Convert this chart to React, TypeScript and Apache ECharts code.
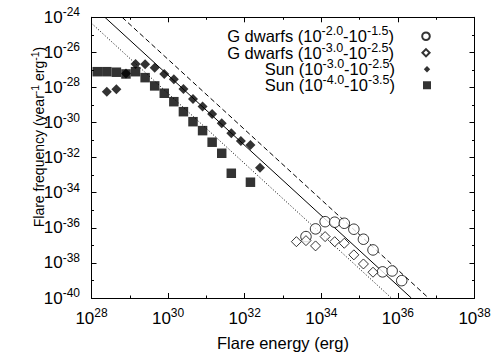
import React, { useEffect, useRef } from 'react';
import * as echarts from 'echarts';

const FONT = '"Liberation Sans", Arial, Helvetica, sans-serif';

// All values are log10: x = log10(flare energy / erg), y = log10(flare frequency / (year^-1 erg^-1))
const gdwarfHighLogE = [33.6, 33.85, 34.1, 34.35, 34.6, 34.85, 35.1, 35.35, 35.6, 35.85, 36.1];
const gdwarfHighLogF = [-36.5, -36.06, -35.65, -35.68, -35.74, -36.08, -36.65, -37.26, -38.51, -38.46, -39.01];

const gdwarfLowLogE = [33.35, 33.6, 33.85, 34.1, 34.35, 34.6, 34.85, 35.1, 35.35];
const gdwarfLowLogF = [-36.79, -36.73, -37.03, -36.5, -36.79, -36.88, -37.54, -38.06, -38.53];

const sunHighLogE = [28.4, 28.65, 28.9, 29.15, 29.4, 29.65, 29.9, 30.15, 30.4, 30.65, 30.9, 31.15, 31.4, 31.65, 31.9, 32.15, 32.4];
const sunHighLogF = [-28.24, -28.1, -27.2, -26.66, -26.68, -26.87, -27.23, -27.53, -28.09, -28.66, -29.09, -29.51, -30.04, -30.61, -31.05, -31.28, -32.57];

const sunLowLogE = [28.15, 28.4, 28.65, 28.9, 29.15, 29.4, 29.65, 29.9, 30.15, 30.4, 30.65, 30.9, 31.15, 31.4, 31.65, 32.15];
const sunLowLogF = [-27.1, -27.1, -27.13, -27.23, -27.1, -27.44, -27.91, -28.33, -28.81, -29.38, -29.95, -30.46, -31.12, -31.75, -32.89, -33.4];

// power-law reference lines (endpoints where they meet the frame)
const dashedLineLogE = [28.8, 36.8];
const dashedLineLogF = [-24, -40];
const solidLineLogE = [28.35, 36.35];
const solidLineLogF = [-24, -40];
const dottedLineLogE = [28, 35.83];
const dottedLineLogF = [-24.34, -40];

const xTickExponents = [28, 30, 32, 34, 36, 38];
const yTickExponents = [-40, -38, -36, -34, -32, -30, -28, -26, -24];

const seriesNames = [
  'G dwarfs (10^{-2.0}-10^{-1.5})',
  'G dwarfs (10^{-3.0}-10^{-2.5})',
  'Sun (10^{-3.0}-10^{-2.5})',
  'Sun (10^{-4.0}-10^{-3.5})',
];
const xTitle = 'Flare energy (erg)';
const yTitle = 'Flare frequency (year^{-1} erg^{-1})';

// legend key shapes, each placed at the right end of a 31x8 box (the leading moves pin the box)
const legendIcons = [
  'path://M0,0M31,8M30.8,4A3.8,3.8,0,1,1,23.2,4A3.8,3.8,0,1,1,30.8,4Z',
  'path://M0,0M31,8M27,0.4L30.6,4L27,7.6L23.4,4Z',
  'path://M0,0M31,8M27,0.8L30.2,4L27,7.2L23.8,4Z',
  'path://M0,0M31,8M23,0L31,0L31,8L23,8Z',
];

const toRich = (s: string) =>
  ('{t|' + s.replace(/\^\{([^}]*)\}/g, '}{s|$1}{t|') + '}').replace(/\{t\|\}/g, '');

const zip = (a: number[], b: number[]) => a.map((v, i) => [v, b[i]]);

const tickLabel = (ticks: number[]) => (v: number) => {
  const e = Math.round(v);
  if (Math.abs(v - e) > 1e-6 || !ticks.includes(e)) return '';
  return `{t|10}{s|${e}}`;
};

const axisRich = {
  t: { fontSize: 17, lineHeight: 20, fontFamily: FONT, color: '#000' },
  s: { fontSize: 12, lineHeight: 20, fontFamily: FONT, color: '#000', padding: [0, 0, 10, 0] },
};

const legendRich = {
  t: { fontSize: 16.5, lineHeight: 15.5, fontFamily: FONT, color: '#000' },
  s: { fontSize: 12.5, lineHeight: 15.5, fontFamily: FONT, color: '#000', padding: [0, 0, 10, 0] },
};

export default function App() {
  const ref = useRef<HTMLDivElement>(null);
  useEffect(() => {
    document.body.style.margin = '0';
    if (!ref.current) return;
    const chart = echarts.init(ref.current, null, { renderer: 'svg' });
    const baseX = {
      type: 'value' as const,
      min: 28,
      max: 38,
      interval: 2,
      splitLine: { show: false },
      axisLine: { show: true, lineStyle: { color: '#000', width: 1 } },
      axisTick: { show: true, inside: true, length: 5, lineStyle: { color: '#000' } },
      minorTick: { show: true, splitNumber: 2, length: 2.5, lineStyle: { color: '#000' } },
    };
    const baseY = {
      type: 'value' as const,
      min: -40,
      max: -24,
      interval: 2,
      splitLine: { show: false },
      axisLine: { show: true, lineStyle: { color: '#000', width: 1 } },
      axisTick: { show: true, inside: true, length: 5, lineStyle: { color: '#000' } },
      minorTick: { show: true, splitNumber: 2, length: 2.5, lineStyle: { color: '#000' } },
    };
    const scatterStyles = [
      { symbol: 'circle', symbolSize: 10.5, itemStyle: { color: '#fff', borderColor: '#000', borderWidth: 1 } },
      { symbol: 'diamond', symbolSize: 10, itemStyle: { color: '#fff', borderColor: '#000', borderWidth: 1 } },
      { symbol: 'diamond', symbolSize: 10, itemStyle: { color: '#000', borderColor: '#000', borderWidth: 0 } },
      { symbol: 'rect', symbolSize: 9.5, itemStyle: { color: '#000', borderColor: '#000', borderWidth: 0 } },
    ];
    const scatterData = [
      zip(gdwarfHighLogE, gdwarfHighLogF),
      zip(gdwarfLowLogE, gdwarfLowLogF),
      zip(sunHighLogE, sunHighLogF),
      zip(sunLowLogE, sunLowLogF),
    ];
    const lines = [
      { data: zip(dashedLineLogE, dashedLineLogF), type: [5, 3] },
      { data: zip(solidLineLogE, solidLineLogF), type: 'solid' },
      { data: zip(dottedLineLogE, dottedLineLogF), type: [1, 2] },
    ];
    const legendTops = [24.75, 41.25, 57.75, 73.75];
    chart.setOption({
      animation: false,
      textStyle: { fontFamily: FONT },
      grid: { left: 91.5, right: 18.5, top: 17.3, bottom: 56, containLabel: false, outerBoundsMode: 'none' },
      xAxis: [
        {
          ...baseX,
          position: 'bottom',
          name: xTitle,
          nameLocation: 'middle',
          nameGap: 34.5,
          nameTextStyle: { fontSize: 16.5, lineHeight: 18, color: '#000', fontFamily: FONT },
          axisLabel: { show: true, margin: 10, formatter: tickLabel(xTickExponents), rich: axisRich },
        },
        { ...baseX, position: 'top', axisLabel: { show: false } },
      ],
      yAxis: [
        {
          ...baseY,
          position: 'left',
          axisLabel: { show: true, margin: 11.5, formatter: tickLabel(yTickExponents), rich: axisRich },
        },
        { ...baseY, position: 'right', axisLabel: { show: false } },
      ],
      legend: seriesNames.map((name, i) => ({
        data: [{ name, icon: legendIcons[i] }],
        orient: 'vertical',
        align: 'right',
        right: 62,
        top: legendTops[i],
        padding: 0,
        itemGap: 0,
        itemWidth: 31,
        itemHeight: 8,
        selectedMode: false,
        formatter: (n: string) => toRich(n),
        textStyle: { fontFamily: FONT, color: '#000', rich: legendRich },
      })),
      graphic: [
        {
          type: 'text',
          x: 39,
          y: 137,
          rotation: Math.PI / 2,
          style: {
            text: toRich(yTitle),
            align: 'center',
            verticalAlign: 'middle',
            fill: '#000',
            fontFamily: FONT,
            fontSize: 14,
            rich: {
              t: { fontSize: 14, lineHeight: 18, fontFamily: FONT, fill: '#000', color: '#000' },
              s: { fontSize: 10.5, lineHeight: 18, fontFamily: FONT, fill: '#000', color: '#000', padding: [0, 0, 8, 0] },
            },
          },
        },
      ],
      series: [
        ...scatterData.map((d, i) => ({
          type: 'scatter',
          name: seriesNames[i],
          data: d,
          ...scatterStyles[i],
        })),
        ...lines.map((l) => ({
          type: 'line',
          data: l.data,
          symbol: 'none',
          silent: true,
          lineStyle: { color: '#000', width: 1, type: l.type },
          z: 1,
        })),
      ],
    });
    return () => chart.dispose();
  }, []);
  return <div ref={ref} style={{ width: 493, height: 354 }} />;
}
